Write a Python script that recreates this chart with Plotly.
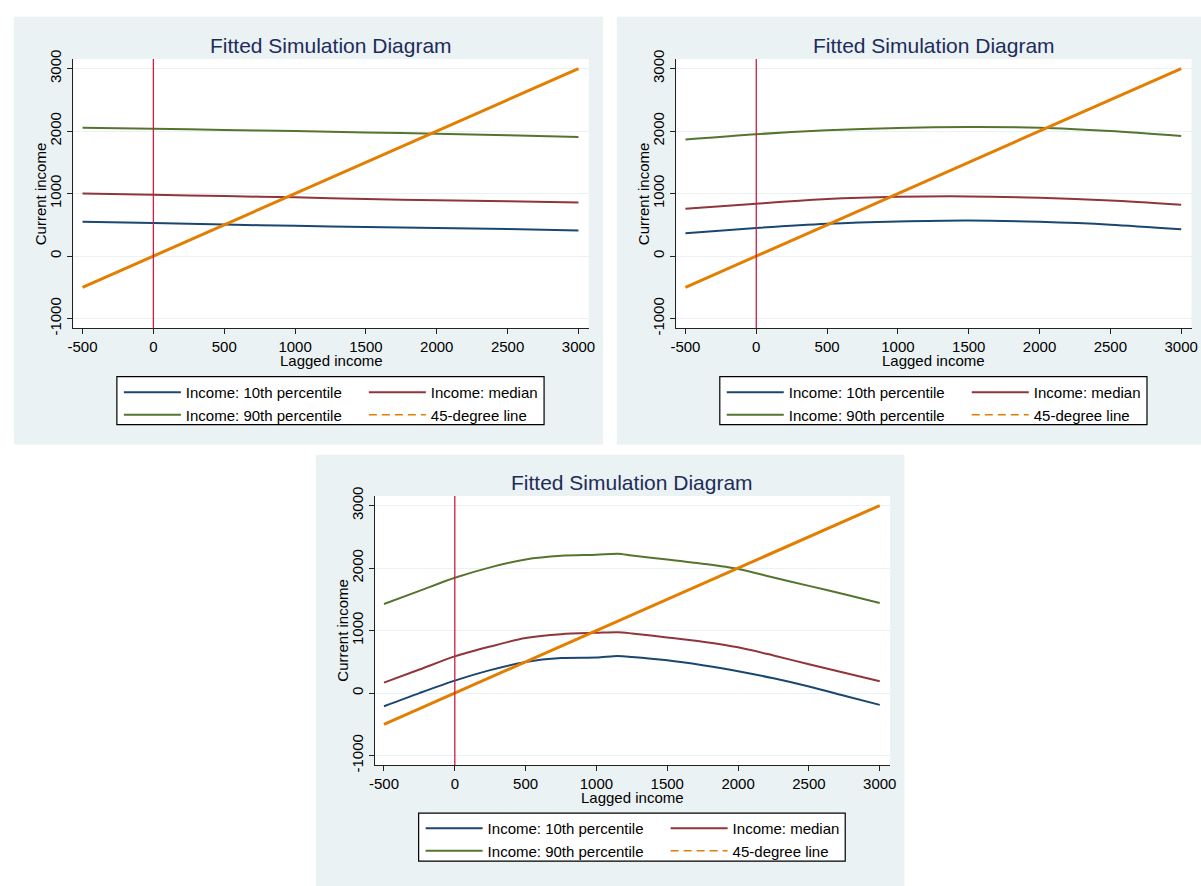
import plotly.graph_objects as go

# ---------------- data ----------------
x_coarse = [-500, 0, 500, 1000, 1500, 2000, 2500, 3000]
p1_p10 = [550, 530, 505, 484, 467, 450, 432, 410]
p1_med = [1000, 980, 960, 940, 915, 892, 878, 858]
p1_p90 = [2053, 2038, 2018, 2000, 1978, 1959, 1934, 1907]

p2_p10 = [366, 450, 518, 555, 571, 548, 503, 429]
p2_med = [759, 838, 912, 948, 955, 932, 890, 822]
p2_p90 = [1865, 1950, 2013, 2050, 2065, 2055, 2002, 1923]

x_fine = [-500, -250, 0, 250, 500, 750, 1000, 1150, 1250, 1500, 1750, 2000, 2250, 2500, 2750, 3000]
p3_p10 = [-210, 0, 199, 367, 498, 560, 568, 592, 578, 524, 445, 351, 236, 105, -42, -189]
p3_med = [168, 377, 587, 744, 880, 943, 964, 974, 955, 891, 822, 733, 602, 461, 325, 189]
p3_p90 = [1425, 1634, 1844, 2011, 2137, 2195, 2212, 2228, 2200, 2137, 2069, 1985, 1849, 1715, 1580, 1441]

diag = [-500, 3000]
vline_x = 0

series_names = ["Income: 10th percentile", "Income: median", "Income: 90th percentile", "45-degree line"]
title_text = "Fitted Simulation Diagram"
x_title = "Lagged income"
y_title = "Current income"
x_tickvals = [-500, 0, 500, 1000, 1500, 2000, 2500, 3000]
x_ticktext = ["-500", "0", "500", "1000", "1500", "2000", "2500", "3000"]
y_tickvals = [-1000, 0, 1000, 2000, 3000]
y_ticktext = ["-1000", "0", "1000", "2000", "3000"]
x_range = [-565, 3073]
y_range = [-1152, 3152]

# ---------------- style ----------------
W, H = 1201, 886
FONT = "Liberation Sans, Arial, Helvetica, sans-serif"
C_BLUE, C_RED, C_GREEN, C_ORANGE = "#1A476F", "#90353B", "#55752F", "#E37E00"
C_VLINE = "#CC1D44"
C_BG = "#EAF2F3"
C_TITLE = "#1E2C5A"
ITEM_W = 57
COL1_W, COL2_W = 173, 118

def fx(px):
    return px / W

def fy(py):
    return 1 - py / H

panels = [
    dict(bg=(8, 8, 603, 443.5), plot=(68, 51, 588.7, 325),
         lbox=(112, 374.3, 543.5, 423.3), lrow1=390,
         data=(x_coarse, p1_p10, p1_med, p1_p90)),
    dict(bg=(617, 8, 1215, 443.5), plot=(677, 51, 1197.5, 325),
         lbox=(721, 374.3, 1152.5, 423.3), lrow1=390,
         data=(x_coarse, p2_p10, p2_med, p2_p90)),
    dict(bg=(313, 454, 907.5, 895), plot=(372.5, 496, 893, 770),
         lbox=(416.8, 819, 847.7, 867.7), lrow1=834,
         data=(x_fine, p3_p10, p3_med, p3_p90)),
]

fig = go.Figure()
shapes = []
annotations = []
layout = dict(
    width=W, height=H,
    margin=dict(l=0, r=0, t=0, b=0),
    paper_bgcolor="white", plot_bgcolor="white",
    font=dict(family=FONT, size=15, color="black"),
    showlegend=True,
)

for i, p in enumerate(panels):
    sfx = "" if i == 0 else str(i + 1)
    xa, ya = "x" + sfx, "y" + sfx
    lg = "legend" + sfx
    xs, a, b, c = p["data"]
    ga, gb = f"p{i}a", f"p{i}b"
    common = dict(mode="lines", xaxis=xa, yaxis=ya, legend=lg, hoverinfo="skip")
    fig.add_trace(go.Scatter(x=xs, y=a, name=series_names[0], legendgroup=ga, legendwidth=COL1_W,
                             line=dict(color=C_BLUE, width=2, shape="spline", smoothing=0.8), **common))
    fig.add_trace(go.Scatter(x=xs, y=b, name=series_names[1], legendgroup=gb, legendwidth=COL2_W,
                             line=dict(color=C_RED, width=2, shape="spline", smoothing=0.8), **common))
    fig.add_trace(go.Scatter(x=xs, y=c, name=series_names[2], legendgroup=ga, legendwidth=COL1_W,
                             line=dict(color=C_GREEN, width=2, shape="spline", smoothing=0.8), **common))
    fig.add_trace(go.Scatter(x=diag, y=diag, name=series_names[3], legendgroup=gb, showlegend=False,
                             line=dict(color=C_ORANGE, width=3), **common))
    fig.add_trace(go.Scatter(x=[None], y=[None], name=series_names[3], legendgroup=gb, legendwidth=COL2_W,
                             line=dict(color=C_ORANGE, width=1.5, dash="8px,5px"), **common))

    bx0, by0, bx1, by1 = p["bg"]
    px0, py0, px1, py1 = p["plot"]
    lx0, ly0, lx1, ly1 = p["lbox"]
    shapes.append(dict(type="rect", xref="paper", yref="paper", x0=fx(bx0), x1=fx(bx1),
                       y0=fy(by1), y1=fy(by0), fillcolor=C_BG, line=dict(width=0), layer="below"))
    shapes.append(dict(type="rect", xref="paper", yref="paper", x0=fx(px0), x1=fx(px1),
                       y0=fy(py1), y1=fy(py0), fillcolor="white", line=dict(width=0), layer="below"))
    shapes.append(dict(type="rect", xref="paper", yref="paper", x0=fx(lx0), x1=fx(lx1),
                       y0=fy(ly1), y1=fy(ly0), fillcolor="white",
                       line=dict(width=1.2, color="black"), layer="below"))
    shapes.append(dict(type="line", xref=xa, yref=ya + " domain", x0=vline_x, x1=vline_x, y0=0, y1=1,
                       line=dict(color=C_VLINE, width=1.3), layer="above"))

    layout["xaxis" + sfx] = dict(
        domain=[fx(px0), fx(px1)], range=x_range, anchor=ya,
        tickmode="array", tickvals=x_tickvals, ticktext=x_ticktext,
        ticks="outside", ticklen=5, tickwidth=1, tickcolor="#222",
        showline=True, linecolor="#222", linewidth=1,
        showgrid=False, zeroline=False,
        tickfont=dict(family=FONT, size=15, color="black"),
    )
    layout["yaxis" + sfx] = dict(
        domain=[fy(py1), fy(py0)], range=y_range, anchor=xa,
        tickmode="array", tickvals=y_tickvals, ticktext=y_ticktext, tickangle=-90,
        ticks="outside", ticklen=5, tickwidth=1, tickcolor="#222",
        showline=True, linecolor="#222", linewidth=1,
        showgrid=True, gridcolor=C_BG, gridwidth=1, zeroline=False,
        tickfont=dict(family=FONT, size=15, color="black"),
    )
    layout[lg] = dict(
        orientation="h", traceorder="grouped", x=fx(lx0 + 2), y=fy(p["lrow1"] - 16.25),
        xanchor="left", yanchor="top", bgcolor="rgba(0,0,0,0)", borderwidth=0,
        font=dict(family=FONT, size=15, color="black"), itemwidth=ITEM_W, tracegroupgap=0,
    )
    cx = (px0 + px1) / 2
    cy = (py0 + py1) / 2
    annotations.append(dict(text=title_text, xref="paper", yref="paper", x=fx(cx), y=fy(py0 - 14),
                            xanchor="center", yanchor="middle", showarrow=False,
                            font=dict(family=FONT, size=21, color=C_TITLE)))
    annotations.append(dict(text=x_title, xref="paper", yref="paper", x=fx(cx), y=fy(py1 + 33),
                            xanchor="center", yanchor="middle", showarrow=False,
                            font=dict(family=FONT, size=15, color="black")))
    annotations.append(dict(text=y_title, xref="paper", yref="paper", x=fx(px0 - 33), y=fy(cy),
                            xanchor="center", yanchor="middle", showarrow=False, textangle=-90,
                            font=dict(family=FONT, size=15, color="black")))

layout["shapes"] = shapes
layout["annotations"] = annotations
fig.update_layout(**layout)
fig.write_html(
    "out.html",
    config={"displayModeBar": False},
    post_script="document.body.style.margin='0';document.body.style.overflow='hidden';",
)
